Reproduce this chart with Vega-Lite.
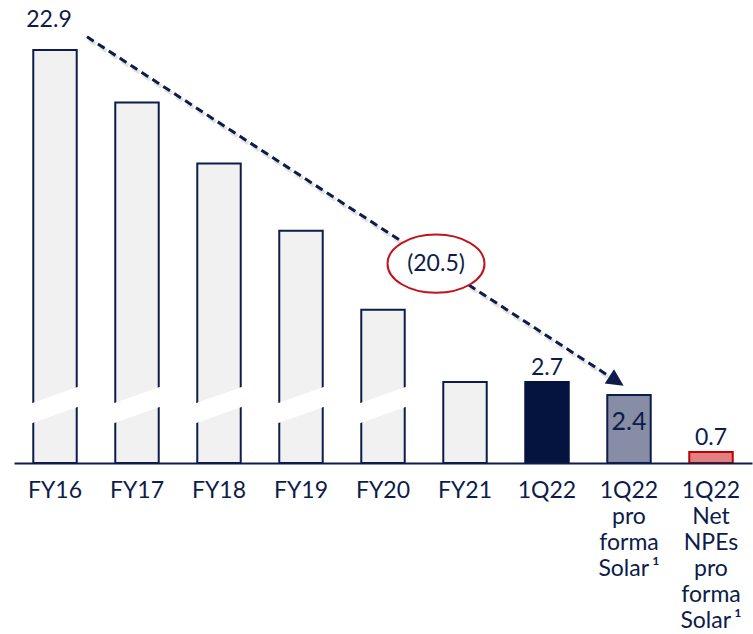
{
  "$schema": "https://vega.github.io/schema/vega-lite/v6.json",
  "width": 738,
  "height": 453,
  "autosize": {"type": "none"},
  "padding": {"left": 14, "top": 10, "right": 1, "bottom": 171},
  "background": "white",
  "config": {
    "view": {"stroke": null},
    "font": "Lato",
    "text": {"font": "Lato", "color": "#0d1c4a"}
  },
  "datasets": {
    "npe": [
      {"cat": "FY16", "value": 22.9, "kind": "history"},
      {"cat": "FY17", "value": 19.7, "kind": "history"},
      {"cat": "FY18", "value": 16.0, "kind": "history"},
      {"cat": "FY19", "value": 11.9, "kind": "history"},
      {"cat": "FY20", "value": 7.1, "kind": "history"},
      {"cat": "FY21", "value": 2.7, "kind": "history"},
      {"cat": "1Q22", "value": 2.7, "kind": "current"},
      {"cat": "1Q22 pro forma Solar\u2009¹", "value": 2.4, "kind": "proforma"},
      {"cat": "1Q22 Net NPEs pro forma Solar\u2009¹", "value": 0.7, "kind": "net"}
    ]
  },
  "data": {"name": "npe"},
  "encoding": {
    "x": {
      "field": "cat",
      "type": "nominal",
      "sort": null,
      "scale": {
        "domain": ["FY16", "FY17", "FY18", "FY19", "FY20", "FY21", "1Q22", "1Q22 pro forma Solar\u2009¹", "1Q22 Net NPEs pro forma Solar\u2009¹"],
        "paddingInner": 0.47,
        "paddingOuter": 0.235
      },
      "axis": {
        "title": null,
        "domain": true,
        "domainColor": "#0d1c4a",
        "domainWidth": 2,
        "ticks": false,
        "labelAngle": 0,
        "labelFont": "Lato",
        "labelFontSize": 23,
        "labelColor": "#0d1c4a",
        "labelPadding": 16,
        "labelBaseline": "top",
        "labelLineHeight": 26,
        "labelLimit": 300,
        "labelExpr": "split(datum.label, ' ')",
        "zindex": 1
      }
    }
  },
  "layer": [
    {
      "mark": {"type": "bar", "strokeWidth": 2},
      "encoding": {
        "y": {
          "field": "value",
          "type": "quantitative",
          "scale": {"type": "linear", "domain": [0, 0.7, 2.4, 2.7, 22.9], "range": [453, 442, 385, 372, 40], "nice": false, "zero": false},
          "axis": null
        },
        "fill": {
          "field": "kind",
          "type": "nominal",
          "scale": {"domain": ["history", "current", "proforma", "net"], "range": ["#f1f1f1", "#04143f", "#868da4", "#e08080"]},
          "legend": null
        },
        "stroke": {
          "field": "kind",
          "type": "nominal",
          "scale": {"domain": ["history", "current", "proforma", "net"], "range": ["#0d1c4a", "#04143f", "#0d1c4a", "#c00000"]},
          "legend": null
        }
      }
    },
    {
      "transform": [{"filter": "datum.value > 3"}],
      "mark": {
        "type": "point",
        "shape": "M-1,-0.06 L1,-0.77 L1,0.06 L-1,0.77 Z",
        "size": 2304,
        "filled": true,
        "fill": "white",
        "strokeWidth": 0,
        "opacity": 1
      },
      "encoding": {
        "y": {
          "datum": 2.1,
          "type": "quantitative",
          "scale": {"type": "linear", "domain": [0, 0.7, 2.4, 2.7, 22.9], "range": [453, 442, 385, 372, 40], "nice": false, "zero": false},
          "axis": null
        }
      }
    },
    {
      "data": {"values": [{}]},
      "mark": {"type": "rule", "stroke": "#c8c8c8", "strokeWidth": 4, "opacity": 0.5, "strokeDash": [8, 5], "xOffset": 34, "x2Offset": -10.5, "yOffset": 3, "y2Offset": 3},
      "encoding": {
        "x": {"datum": "FY16", "type": "nominal"},
        "x2": {"datum": "1Q22 pro forma Solar\u2009¹"},
        "y": {
          "datum": 23.7,
          "type": "quantitative",
          "scale": {"type": "linear", "domain": [0, 0.7, 2.4, 2.7, 22.9], "range": [453, 442, 385, 372, 40], "nice": false, "zero": false},
          "axis": null
        },
        "y2": {"datum": 2.76}
      }
    },
    {
      "data": {"values": [{}]},
      "mark": {"type": "rule", "stroke": "#0d1c4a", "strokeWidth": 3, "strokeDash": [8, 5], "xOffset": 32, "x2Offset": -12.5},
      "encoding": {
        "x": {"datum": "FY16", "type": "nominal"},
        "x2": {"datum": "1Q22 pro forma Solar\u2009¹"},
        "y": {
          "datum": 23.7,
          "type": "quantitative",
          "scale": {"type": "linear", "domain": [0, 0.7, 2.4, 2.7, 22.9], "range": [453, 442, 385, 372, 40], "nice": false, "zero": false},
          "axis": null
        },
        "y2": {"datum": 2.76}
      }
    },
    {
      "data": {"values": [{}]},
      "mark": {"type": "point", "shape": "M1,0 L-1,-1 L-1,1 Z", "size": 289, "angle": 33, "filled": true, "fill": "#0d1c4a", "opacity": 1, "strokeWidth": 0, "xOffset": -12.5},
      "encoding": {
        "x": {"datum": "1Q22 pro forma Solar\u2009¹", "type": "nominal"},
        "y": {
          "datum": 2.76,
          "type": "quantitative",
          "scale": {"type": "linear", "domain": [0, 0.7, 2.4, 2.7, 22.9], "range": [453, 442, 385, 372, 40], "nice": false, "zero": false},
          "axis": null
        }
      }
    },
    {
      "data": {"values": [{}]},
      "mark": {"type": "point", "shape": "M-1,0 A1,0.6 0 1,0 1,0 A1,0.6 0 1,0 -1,0 Z", "size": 9409, "filled": false, "fill": "white", "fillOpacity": 1, "stroke": "#c0141c", "strokeWidth": 2, "opacity": 1, "xOffset": 53},
      "encoding": {
        "x": {"datum": "FY20", "type": "nominal"},
        "y": {
          "datum": 9.9,
          "type": "quantitative",
          "scale": {"type": "linear", "domain": [0, 0.7, 2.4, 2.7, 22.9], "range": [453, 442, 385, 372, 40], "nice": false, "zero": false},
          "axis": null
        }
      }
    },
    {
      "data": {"values": [{}]},
      "mark": {"type": "text", "text": "(20.5)", "fontSize": 23, "baseline": "middle", "align": "center", "xOffset": 53},
      "encoding": {
        "x": {"datum": "FY20", "type": "nominal"},
        "y": {
          "datum": 9.9,
          "type": "quantitative",
          "scale": {"type": "linear", "domain": [0, 0.7, 2.4, 2.7, 22.9], "range": [453, 442, 385, 372, 40], "nice": false, "zero": false},
          "axis": null
        }
      }
    },
    {
      "transform": [{"filter": "datum.kind == 'current' || datum.kind == 'net'"}],
      "mark": {"type": "text", "fontSize": 23, "baseline": "middle", "align": "center", "dy": -14},
      "encoding": {
        "y": {
          "field": "value",
          "type": "quantitative",
          "scale": {"type": "linear", "domain": [0, 0.7, 2.4, 2.7, 22.9], "range": [453, 442, 385, 372, 40], "nice": false, "zero": false},
          "axis": null
        },
        "text": {"field": "value", "type": "quantitative", "format": ".1f"}
      }
    },
    {
      "transform": [{"filter": "datum.cat == 'FY16'"}],
      "mark": {"type": "text", "fontSize": 23, "baseline": "middle", "align": "center", "dy": -30, "dx": -6},
      "encoding": {
        "y": {
          "field": "value",
          "type": "quantitative",
          "scale": {"type": "linear", "domain": [0, 0.7, 2.4, 2.7, 22.9], "range": [453, 442, 385, 372, 40], "nice": false, "zero": false},
          "axis": null
        },
        "text": {"field": "value", "type": "quantitative", "format": ".1f"}
      }
    },
    {
      "transform": [{"filter": "datum.kind == 'proforma'"}],
      "mark": {"type": "text", "fontSize": 25, "baseline": "middle", "align": "center", "dy": 27},
      "encoding": {
        "y": {
          "field": "value",
          "type": "quantitative",
          "scale": {"type": "linear", "domain": [0, 0.7, 2.4, 2.7, 22.9], "range": [453, 442, 385, 372, 40], "nice": false, "zero": false},
          "axis": null
        },
        "text": {"field": "value", "type": "quantitative", "format": ".1f"}
      }
    }
  ]
}
